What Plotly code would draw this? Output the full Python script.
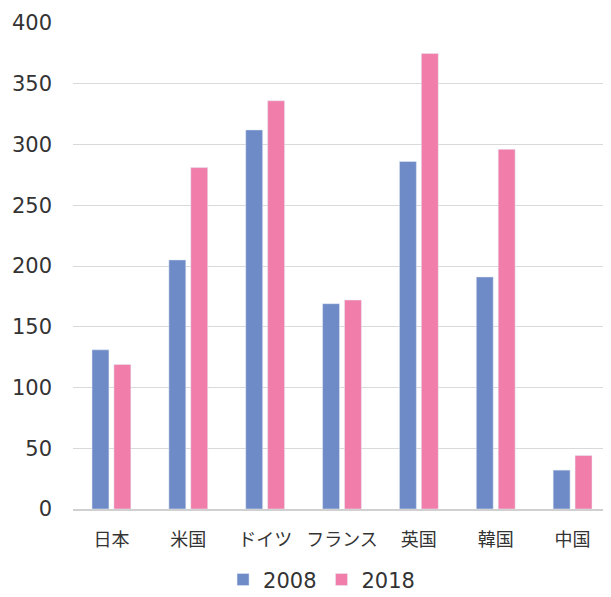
import plotly.graph_objects as go

# 国別の値
countries = ["日本", "米国", "ドイツ", "フランス", "英国", "韓国", "中国"]
values_2008 = [131, 205, 312, 169, 286, 191, 32]
values_2018 = [119, 281, 336, 172, 375, 296, 44]

BLUE = "#6F8BC7"
PINK = "#F17DAA"

fig = go.Figure()
fig.add_trace(go.Bar(x=countries, y=values_2008, name="2008", marker_color=BLUE))
fig.add_trace(go.Bar(x=countries, y=values_2018, name="2018", marker_color=PINK))

# ページ本体の既定マージン(8px)を差し引いたサイズ
fig.update_layout(
    width=603,
    height=589,
    margin=dict(l=65, r=0, t=15, b=88, autoexpand=False),
    paper_bgcolor="white",
    plot_bgcolor="white",
    barmode="group",
    bargap=0.43,
    bargroupgap=0.227,
    font=dict(family="DejaVu Sans, Noto Sans CJK JP", color="#333333", size=21),
    legend=dict(
        orientation="h",
        x=0.462, xanchor="center",
        y=-0.188, yanchor="bottom",
        bgcolor="rgba(0,0,0,0)",
        borderwidth=0,
        font=dict(size=21),
        itemwidth=30,
    ),
)

fig.update_yaxes(
    range=[0, 400],
    dtick=50,
    showgrid=True,
    gridcolor="#D9D9D9",
    gridwidth=1,
    zeroline=False,
    showline=False,
    ticks="",
    automargin=False,
    ticklabelstandoff=20,
    tickfont=dict(size=21),
)
fig.update_xaxes(
    showline=True,
    linecolor="#D0D0D0",
    linewidth=2,
    ticks="",
    automargin=False,
    ticklabelstandoff=13,
    tickfont=dict(family="Noto Sans CJK JP", size=18),
)

fig.write_html("out.html")
